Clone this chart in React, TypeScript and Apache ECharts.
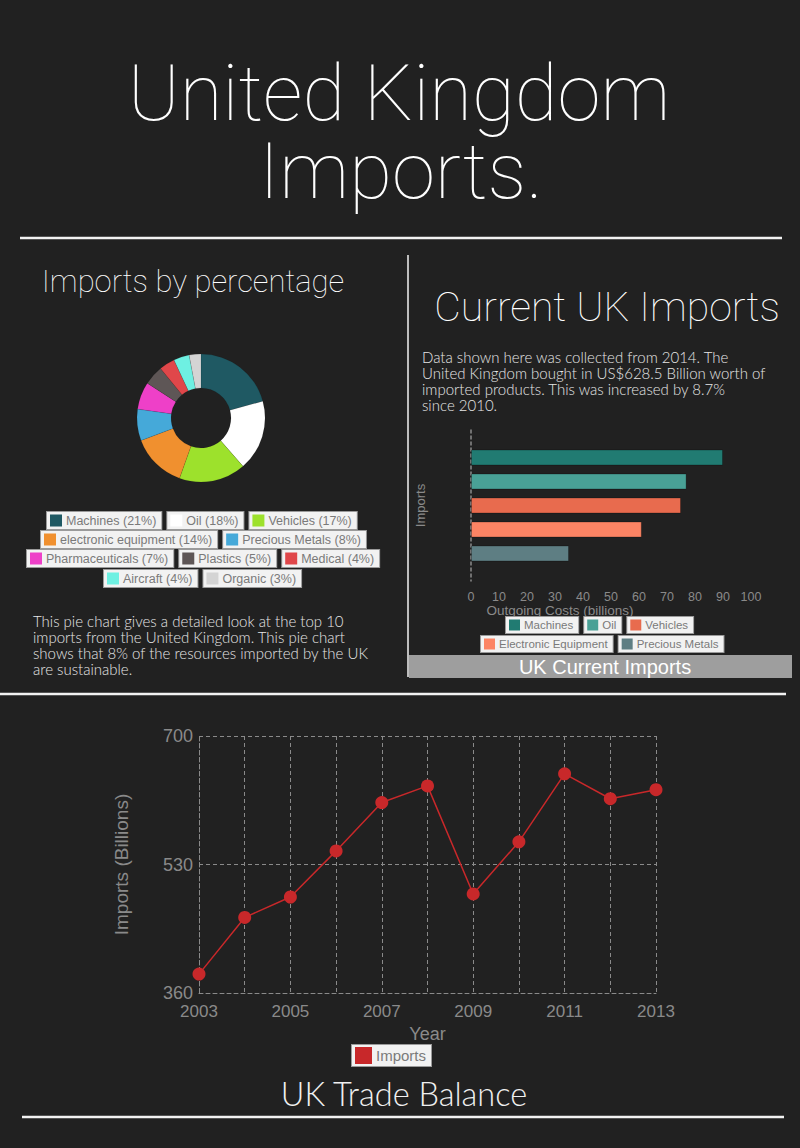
import React, { useEffect, useRef } from 'react';
import * as echarts from 'echarts';

const pieCategories = ['Machines', 'Oil', 'Vehicles', 'electronic equipment', 'Precious Metals', 'Pharmaceuticals', 'Plastics', 'Medical', 'Aircraft', 'Organic'];
const pieValues = [21, 18, 17, 14, 8, 7, 5, 4, 4, 3];
const pieColors = ['#1f5963', '#ffffff', '#9de12c', '#f0902f', '#45a9d9', '#ee40c8', '#5e5656', '#e0474a', '#6ef0e2', '#d4d4d4'];
const pieLegendRows = [[0, 1, 2], [3, 4], [5, 6, 7], [8, 9]];

const barCategories = ['Machines', 'Oil', 'Vehicles', 'Electronic Equipment', 'Precious Metals'];
const barValues = [90, 77, 75, 61, 35];
const barColors = ['#217b72', '#49a196', '#e86b4e', '#fc8464', '#5e7e83'];
const barLegendRows = [[0, 1, 2], [3, 4]];

const years = ['2003', '2004', '2005', '2006', '2007', '2008', '2009', '2010', '2011', '2012', '2013'];
const importsValues = [385, 460, 487, 548, 612, 634, 491, 560, 650, 617, 629];

const pieParagraph = [
  'This pie chart gives a detailed look at the top 10',
  'imports from the United Kingdom. This pie chart',
  'shows that 8% of the resources imported by the UK',
  'are sustainable.',
];
const barParagraph = [
  'Data shown here was collected from 2014. The',
  'United Kingdom bought in US$628.5 Billion worth of',
  'imported products. This was increased by 8.7%',
  'since 2010.',
];

const THIN = 'Roboto';
const BODY = 'Lato';
const LEG = 'Liberation Sans';

function boxLegend(names: string[], colors: string[], left: number, top: number, fontSize: number, square: number, gap: number) {
  const rich: any = {};
  names.forEach((n, i) => {
    rich['s' + i] = { width: square, height: square, backgroundColor: colors[i] };
  });
  rich.t = { color: '#7a7a7a', fontSize, fontFamily: LEG, padding: [0, 0, 0, 4] };
  return {
    data: names,
    left,
    top,
    padding: 0,
    orient: 'horizontal',
    icon: 'none',
    itemWidth: 0,
    itemHeight: 0,
    itemGap: gap,
    selectedMode: false,
    formatter: (name: string) => `{s${names.indexOf(name)}| }{t|${name}}`,
    textStyle: {
      backgroundColor: '#f2f2f2',
      borderColor: '#9a9a9a',
      borderWidth: 1,
      padding: [2, 5, 2, 3],
      fontSize,
      fontFamily: LEG,
      color: '#7a7a7a',
      rich,
    },
  };
}

export default function App() {
  const ref = useRef<HTMLDivElement>(null);
  useEffect(() => {
    if (!ref.current) return;
    const chart = echarts.init(ref.current, undefined, { renderer: 'svg', width: 800, height: 1148 });

    const pieNames = pieCategories.map((c, i) => `${c} (${pieValues[i]}%)`);
    const pieLegendLefts = [42, 36, 22, 99];
    const pieLegendTops = [511, 530, 549, 569];
    const barLegendLefts = [501, 476];
    const barLegendTops = [616, 635];

    const legends: any[] = [];
    pieLegendRows.forEach((row, r) => {
      legends.push(boxLegend(row.map((i) => pieNames[i]), row.map((i) => pieColors[i]), pieLegendLefts[r], pieLegendTops[r], 12.5, 12, 0));
    });
    barLegendRows.forEach((row, r) => {
      legends.push(boxLegend(row.map((i) => barCategories[i]), row.map((i) => barColors[i]), barLegendLefts[r], barLegendTops[r], 11.5, 11, 0));
    });
    legends.push(boxLegend(['Imports'], ['#c8282a'], 347, 1044, 15, 17, 0));

    const textEl = (text: string, x: number, y: number, size: number, opts: any = {}) => ({
      type: 'text',
      x,
      y,
      style: {
        text,
        fill: opts.fill || '#ffffff',
        fontSize: size,
        fontFamily: opts.family || THIN,
        fontWeight: opts.weight || 100,
        textAlign: opts.align || 'center',
        textVerticalAlign: 'middle',
      },
    });

    const graphic: any[] = [
      textEl('United Kingdom', 399, 93, 78),
      textEl('Imports.', 401, 171.5, 78),
      { type: 'line', shape: { x1: 20, y1: 238, x2: 782, y2: 238 }, style: { stroke: '#f2f2f2', lineWidth: 2.5 } },
      textEl('Imports by percentage', 193, 281, 31),
      { type: 'line', shape: { x1: 408, y1: 255, x2: 408, y2: 677 }, style: { stroke: '#f2f2f2', lineWidth: 1.5 } },
      textEl('Current UK Imports', 607, 307, 41),
      ...pieParagraph.map((l, i) => textEl(l, 33, 621 + i * 16, 15, { align: 'left', family: BODY, weight: 300, fill: '#e6e6e6' })),
      ...barParagraph.map((l, i) => textEl(l, 422, 357 + i * 16, 15, { align: 'left', family: BODY, weight: 300, fill: '#e6e6e6' })),
      { type: 'rect', shape: { x: 409, y: 655, width: 383, height: 23 }, style: { fill: '#9e9e9e' } },
      textEl('UK Current Imports', 605, 667, 20, { family: LEG, weight: 'normal' }),
      { type: 'line', shape: { x1: 0, y1: 694, x2: 786, y2: 694 }, style: { stroke: '#f2f2f2', lineWidth: 2.5 } },
      textEl('UK Trade Balance', 404, 1093, 32.5, { family: BODY, weight: 300, fill: '#f0f0f0' }),
      { type: 'line', shape: { x1: 22, y1: 1117, x2: 784, y2: 1117 }, style: { stroke: '#f2f2f2', lineWidth: 2.5 } },
    ];

    const gridLine = { color: '#8a8a8a', type: [4, 3], width: 1 };

    chart.setOption({
      animation: false,
      backgroundColor: '#212121',
      graphic,
      legend: legends,
      grid: [
        { left: 471, right: 49, top: 430, bottom: 567 },
        { left: 199, right: 144, top: 736, bottom: 155 },
      ],
      xAxis: [
        {
          gridIndex: 0,
          type: 'value',
          min: 0,
          max: 100,
          interval: 10,
          axisLine: { show: false },
          axisTick: { show: false },
          splitLine: { show: false },
          axisLabel: { color: '#8a8a8a', fontSize: 12.5, fontFamily: LEG, margin: 9 },
          name: 'Outgoing Costs (billions)',
          nameLocation: 'middle',
          nameGap: 20,
          nameTextStyle: { color: '#8a8a8a', fontSize: 13.5, fontFamily: LEG, padding: [0, 102, 0, 0] },
        },
        {
          gridIndex: 1,
          type: 'category',
          data: years,
          boundaryGap: false,
          axisLine: { show: true, lineStyle: gridLine },
          axisTick: { show: false },
          splitLine: { show: true, interval: 0, lineStyle: gridLine },
          axisLabel: { color: '#8a8a8a', fontSize: 17, fontFamily: LEG, interval: 1, margin: 10 },
          name: 'Year',
          nameLocation: 'middle',
          nameGap: 32,
          nameTextStyle: { color: '#8a8a8a', fontSize: 18, fontFamily: LEG },
        },
      ],
      yAxis: [
        {
          gridIndex: 0,
          type: 'category',
          data: ['Imports'],
          inverse: true,
          axisLine: { show: true, lineStyle: { color: '#8a8a8a', type: [3, 3], width: 1.5 } },
          axisTick: { show: false },
          axisLabel: { show: false },
          name: 'Imports',
          nameLocation: 'middle',
          nameRotate: 90,
          nameGap: 44,
          nameTextStyle: { color: '#8a8a8a', fontSize: 13, fontFamily: LEG },
        },
        {
          gridIndex: 1,
          type: 'value',
          min: 360,
          max: 700,
          interval: 170,
          axisLine: { show: true, lineStyle: gridLine },
          axisTick: { show: false },
          splitLine: { show: true, lineStyle: gridLine },
          axisLabel: { color: '#8a8a8a', fontSize: 18, fontFamily: LEG, margin: 6 },
          name: 'Imports (Billions)',
          nameLocation: 'middle',
          nameRotate: 90,
          nameGap: 68,
          nameTextStyle: { color: '#8a8a8a', fontSize: 19, fontFamily: LEG },
        },
      ],
      series: [
        {
          type: 'pie',
          center: [201, 418],
          radius: [30, 64],
          startAngle: 90,
          clockwise: true,
          label: { show: false },
          labelLine: { show: false },
          itemStyle: { borderColor: 'rgba(0,0,0,0.15)', borderWidth: 0.5 },
          data: pieNames.map((n, i) => ({ name: n, value: pieValues[i], itemStyle: { color: pieColors[i] } })),
        },
        ...barCategories.map((c, i) => ({
          type: 'bar',
          name: c,
          xAxisIndex: 0,
          yAxisIndex: 0,
          barWidth: 16,
          barGap: '50%',
          itemStyle: { color: barColors[i], borderColor: 'rgba(0,0,0,0.25)', borderWidth: 1 },
          data: [barValues[i]],
        })),
        {
          type: 'line',
          name: 'Imports',
          xAxisIndex: 1,
          yAxisIndex: 1,
          data: importsValues,
          symbol: 'circle',
          symbolSize: 13,
          lineStyle: { color: '#c8282a', width: 1.5 },
          itemStyle: { color: '#c8282a' },
        },
      ],
    });
    return () => chart.dispose();
  }, []);
  return <div ref={ref} style={{ position: 'absolute', left: 0, top: 0, width: 800, height: 1148 }} />;
}
